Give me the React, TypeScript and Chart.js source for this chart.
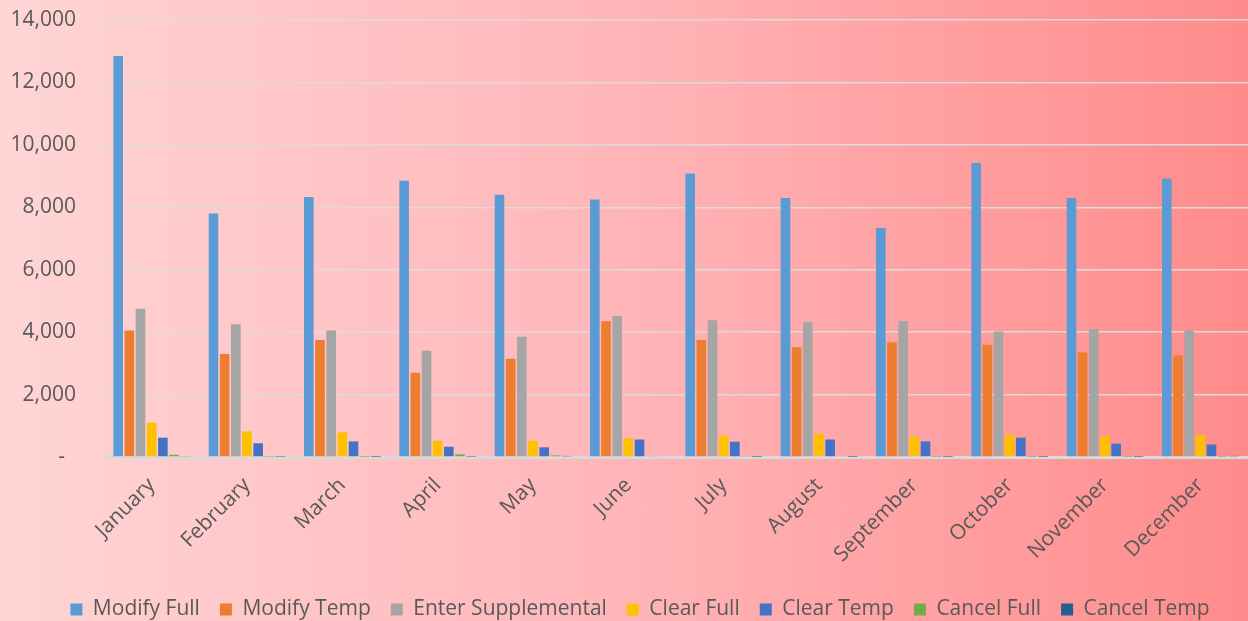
import React, { useEffect, useRef } from "react";
import { Chart, registerables } from "chart.js";

Chart.register(...registerables);

const months = ["January", "February", "March", "April", "May", "June", "July", "August", "September", "October", "November", "December"];
const modifyFull = [12850, 7800, 8330, 8850, 8400, 8250, 9080, 8300, 7340, 9420, 8300, 8920];
const modifyTemp = [4050, 3300, 3750, 2700, 3150, 4350, 3750, 3520, 3680, 3600, 3350, 3250];
const enterSupplemental = [4750, 4250, 4050, 3400, 3850, 4520, 4380, 4320, 4360, 4020, 4100, 4050];
const clearFull = [1100, 820, 790, 520, 520, 610, 690, 740, 650, 710, 670, 700];
const clearTemp = [620, 440, 500, 330, 310, 560, 490, 560, 500, 620, 430, 400];
const cancelFull = [70, 10, 5, 85, 50, 20, 15, 20, 5, 5, 5, 5];
const cancelTemp = [20, 10, 5, 10, 35, 25, 5, 5, 5, 5, 5, 35];

const seriesNames = ["Modify Full", "Modify Temp", "Enter Supplemental", "Clear Full", "Clear Temp", "Cancel Full", "Cancel Temp"];
const seriesColors = ["#5B9BD5", "#ED7D31", "#A5A5A5", "#FFC000", "#4472C4", "#70AD47", "#255E91"];
const seriesData = [modifyFull, modifyTemp, enterSupplemental, clearFull, clearTemp, cancelFull, cancelTemp];

const FONT = "'Open Sans', 'Noto Sans', sans-serif";

const legendShift = {
  id: "legendShift",
  afterLayout(chart: any) {
    const lg = chart.legend;
    if (lg) {
      lg.top += 9;
      lg.bottom += 9;
      lg.left += 16;
      lg.right += 16;
    }
  },
};

export default function App() {
  const ref = useRef<HTMLCanvasElement | null>(null);

  useEffect(() => {
    document.body.style.margin = "0";
    const ctx = ref.current;
    if (!ctx) return;
    const chart = new Chart(ctx, {
      type: "bar",
      data: {
        labels: months,
        datasets: seriesNames.map((name, i) => ({
          label: name,
          data: seriesData[i],
          backgroundColor: seriesColors[i],
          borderWidth: 0,
          categoryPercentage: 0.82,
          barPercentage: 0.86,
        })),
      },
      options: {
        responsive: false,
        animation: false,
        layout: { padding: { top: 0, right: 0, left: 0, bottom: 0 } },
        plugins: {
          tooltip: { enabled: false },
          legend: {
            position: "bottom",
            labels: {
              boxWidth: 12,
              boxHeight: 12,
              padding: 20,
              color: "#595959",
              font: { family: FONT, size: 21 },
            },
          },
        },
        scales: {
          x: {
            grid: { display: false },
            border: { display: true, color: "#D9D9D9", width: 3 },
            ticks: {
              color: "#595959",
              font: { family: FONT, size: 21 },
              minRotation: 45,
              maxRotation: 45,
              padding: 8,
            },
            afterFit: (scale: any) => {
              scale.height = 113;
            },
          },
          y: {
            min: 0,
            max: 14000,
            grid: { color: "#DCDCDC", lineWidth: 1.5, drawTicks: false },
            border: { display: false },
            ticks: {
              stepSize: 2000,
              padding: 28,
              color: "#595959",
              font: { family: FONT, size: 21 },
              callback: (v: any) => (Number(v) === 0 ? "-  " : Number(v).toLocaleString("en-US")),
            },
            afterFit: (scale: any) => {
              scale.width = 104;
              scale.paddingTop = 20;
              scale.paddingBottom = 0;
            },
          },
        },
      },
      plugins: [legendShift],
    });
    return () => chart.destroy();
  }, []);

  return (
    <div
      style={{
        position: "fixed",
        left: 0,
        top: 0,
        width: 1248,
        height: 621,
        background: "linear-gradient(to right, #FFD5D5 0%, #FFB5B8 50%, #FF8B8B 100%)",
      }}
    >
      <canvas ref={ref} width={1248} height={621} />
    </div>
  );
}
